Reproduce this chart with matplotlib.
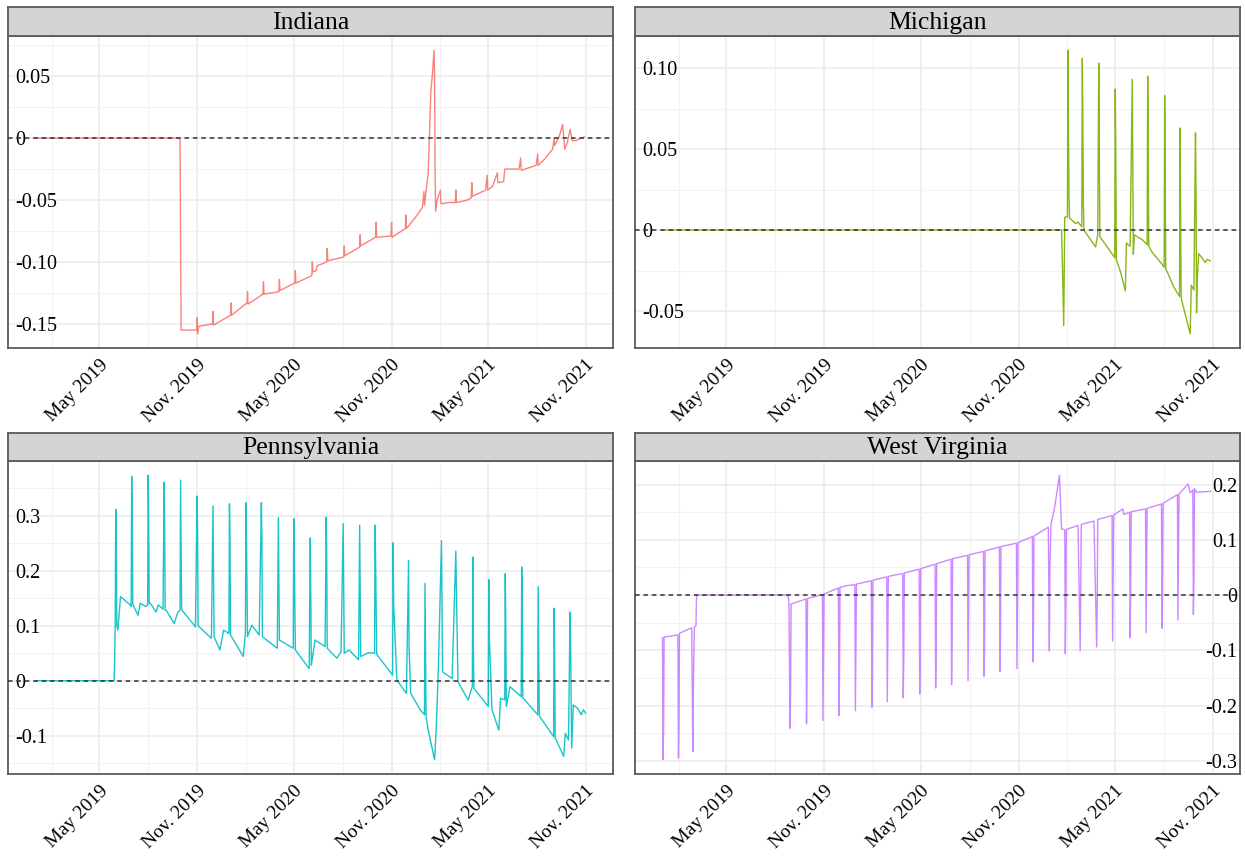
import matplotlib
matplotlib.use("Agg")
import matplotlib.pyplot as plt
from matplotlib.ticker import AutoMinorLocator
import numpy as np
import pandas as pd

plt.rcParams['font.family'] = ['Liberation Serif', 'DejaVu Serif']

start = pd.Timestamp("2019-01-01")

# days since 2019-01-01 and the plotted difference
indiana_days = [0, 272, 273, 274, 303, 304, 305, 307, 333, 334, 335, 367, 368, 369,
                398, 399, 400, 428, 429, 430, 458, 459, 460, 488, 489, 490, 520, 521,
                522, 528, 530, 548, 549, 550, 580, 581, 582, 610, 611, 612, 640, 641,
                642, 669, 670, 671, 696, 697, 698, 715, 728, 731, 732, 739, 744, 747,
                750, 751, 752, 753, 756, 762, 763, 778, 790, 791, 792, 813, 820, 821,
                822, 847, 850, 851, 860, 869, 870, 881, 883, 910, 913, 914, 942, 945,
                946, 958, 973, 976, 977, 986, 992, 996, 1001, 1006, 1010, 1017, 1027, 1033]
indiana_vals = [0, 0, -0.079, -0.155, -0.155, -0.145, -0.158, -0.152, -0.150, -0.140,
                -0.151, -0.143, -0.133, -0.143, -0.133, -0.124, -0.134, -0.126, -0.116,
                -0.126, -0.124, -0.114, -0.123, -0.117, -0.107, -0.117, -0.111, -0.100,
                -0.108, -0.107, -0.103, -0.100, -0.089, -0.099, -0.096, -0.087, -0.095,
                -0.088, -0.078, -0.087, -0.080, -0.068, -0.080, -0.079, -0.068, -0.080,
                -0.073, -0.062, -0.073, -0.064, -0.056, -0.043, -0.054, -0.028, 0.038,
                0.052, 0.071, 0.050, -0.028, -0.059, -0.050, -0.042, -0.053, -0.052,
                -0.052, -0.042, -0.052, -0.050, -0.048, -0.036, -0.047, -0.042, -0.030,
                -0.042, -0.039, -0.028, -0.036, -0.035, -0.025, -0.025, -0.016, -0.026,
                -0.022, -0.013, -0.022, -0.017, -0.009, 0.000, -0.006, 0.002, 0.011,
                -0.009, -0.003, 0.007, -0.002, -0.002, 0.000, 0.001]

michigan_days = [0, 751, 753, 755, 757, 762, 763, 764, 765, 766, 778, 782, 789, 790,
                 791, 792, 793, 815, 819, 821, 822, 823, 851, 852, 853, 854, 862, 871,
                 873, 880, 884, 885, 886, 888, 903, 912, 913, 914, 915, 921, 940, 944,
                 945, 946, 947, 950, 962, 973, 974, 975, 976, 993, 995, 1000, 1003, 1004,
                 1005, 1006, 1009, 1015, 1021, 1025, 1031]
michigan_vals = [0, 0, -0.028, -0.059, 0.008, 0.008, 0.111, 0.059, 0.021, 0.0073, 0.004,
                 0.005, 0.002, 0.106, 0.068, 0.016, 0.0, -0.0104, -0.003, 0.103, 0.051,
                 -0.004, -0.017, 0.087, 0.048, -0.018, -0.026, -0.0375, -0.008, -0.010,
                 0.093, 0.041, -0.015, -0.003, -0.006, -0.009, 0.095, 0.057, -0.010,
                 -0.0135, -0.021, -0.023, 0.083, 0.031, -0.024, -0.026, -0.035, -0.041,
                 0.063, 0.0115, -0.042, -0.064, -0.034, -0.037, 0.060, 0.021, -0.051,
                 -0.033, -0.0146, -0.017, -0.020, -0.018, -0.019]

penn_days = [0, 148, 149, 150, 151, 152, 153, 155, 160, 178, 180, 181, 182, 183, 185,
             193, 197, 208, 211, 212, 213, 214, 216, 227, 231, 240, 242, 243, 244, 246,
             261, 268, 272, 273, 274, 275, 276, 301, 304, 305, 306, 331, 334, 335, 336,
             347, 354, 364, 365, 366, 367, 391, 395, 396, 397, 399, 407, 421, 425, 426,
             427, 455, 457, 458, 459, 485, 486, 487, 489, 515, 517, 518, 519, 526, 545,
             547, 548, 549, 567, 575, 579, 580, 581, 590, 608, 610, 611, 612, 627, 638,
             639, 640, 642, 672, 673, 674, 680, 698, 702, 703, 706, 724, 732, 733, 734,
             735, 739, 751, 754, 758, 764, 765, 766, 784, 791, 792, 795, 814, 822, 823,
             824, 825, 852, 853, 854, 859, 872, 875, 883, 884, 885, 886, 893, 914, 915,
             916, 917, 945, 946, 947, 948, 975, 976, 977, 978, 994, 997, 1003, 1006,
             1007, 1009, 1012, 1020, 1027, 1031, 1035]
penn_vals = [0, 0, 0.038, 0.104, 0.312, 0.263, 0.100, 0.092, 0.153, 0.138, 0.135, 0.372,
             0.300, 0.140, 0.135, 0.119, 0.141, 0.135, 0.138, 0.374, 0.300, 0.140, 0.141,
             0.125, 0.138, 0.130, 0.361, 0.290, 0.128, 0.128, 0.104, 0.125, 0.128, 0.365,
             0.250, 0.130, 0.128, 0.098, 0.336, 0.270, 0.100, 0.077, 0.318, 0.200, 0.080,
             0.056, 0.092, 0.086, 0.322, 0.260, 0.083, 0.044, 0.086, 0.324, 0.260, 0.080,
             0.101, 0.083, 0.324, 0.260, 0.080, 0.059, 0.297, 0.180, 0.074, 0.059, 0.295,
             0.230, 0.056, 0.022, 0.260, 0.160, 0.028, 0.074, 0.062, 0.298, 0.230, 0.059,
             0.041, 0.053, 0.286, 0.160, 0.050, 0.056, 0.038, 0.283, 0.170, 0.044, 0.051,
             0.050, 0.283, 0.220, 0.048, 0.010, 0.251, 0.140, 0.001, -0.023, 0.219, 0.060,
             -0.023, -0.053, -0.062, 0.177, 0.060, -0.065, -0.090, -0.144, -0.090, 0.019,
             0.255, 0.140, 0.016, 0.004, 0.236, 0.170, -0.002, -0.035, -0.011, 0.225,
             0.060, -0.014, -0.047, 0.184, 0.080, -0.053, -0.090, -0.032, -0.035, 0.195,
             0.090, -0.047, -0.011, -0.029, 0.207, 0.140, -0.031, -0.062, 0.171, 0.060,
             -0.064, -0.102, 0.132, 0.040, -0.104, -0.138, -0.096, -0.108, 0.125, 0.060,
             -0.123, -0.044, -0.050, -0.062, -0.053, -0.059]

wv_days = [0, 1, 2, 3, 29, 30, 31, 32, 55, 57, 58, 60, 63, 64, 236, 238, 240, 241, 242,
           270, 271, 272, 273, 301, 302, 303, 304, 331, 332, 333, 334, 346, 362, 363, 364,
           365, 393, 394, 395, 396, 422, 423, 424, 425, 452, 453, 454, 455, 483, 484, 485,
           486, 513, 514, 515, 516, 543, 544, 545, 546, 574, 575, 576, 577, 604, 605, 606,
           607, 634, 635, 636, 637, 666, 667, 668, 669, 696, 697, 698, 699, 726, 728, 729,
           731, 738, 747, 751, 757, 758, 759, 760, 782, 786, 787, 788, 812, 817, 818, 819,
           846, 847, 848, 849, 866, 868, 879, 880, 881, 882, 909, 910, 911, 912, 939, 940,
           941, 942, 969, 970, 971, 972, 989, 993, 998, 999, 1000, 1001, 1005, 1032]
wv_vals = [-0.077, -0.298, -0.250, -0.076, -0.072, -0.295, -0.240, -0.069, -0.059, -0.283,
           -0.168, -0.058, -0.055, 0, 0, -0.014, -0.241, -0.186, -0.016, -0.007, -0.233,
           -0.150, -0.006, 0.001, -0.227, -0.120, 0.002, 0.013, -0.218, -0.160, 0.014,
           0.017, 0.019, -0.209, -0.100, 0.020, 0.026, -0.203, -0.150, 0.027, 0.033,
           -0.193, -0.090, 0.034, 0.039, -0.186, -0.120, 0.040, 0.047, -0.179, -0.100,
           0.048, 0.056, -0.168, -0.100, 0.057, 0.065, -0.162, -0.080, 0.066, 0.072,
           -0.155, -0.040, 0.073, 0.079, -0.147, -0.100, 0.080, 0.087, -0.138, -0.080,
           0.088, 0.094, -0.133, -0.020, 0.095, 0.106, -0.121, -0.070, 0.107, 0.123,
           -0.101, 0.050, 0.128, 0.159, 0.217, 0.120, 0.118, -0.106, -0.030, 0.119, 0.126,
           -0.101, 0.000, 0.128, 0.134, -0.094, -0.020, 0.137, 0.144, -0.083, 0.030, 0.145,
           0.156, 0.146, 0.150, -0.077, 0.000, 0.151, 0.156, -0.068, 0.040, 0.157, 0.165,
           -0.060, 0.000, 0.166, 0.182, -0.045, 0.070, 0.183, 0.201, 0.185, 0.190, -0.035,
           0.020, 0.193, 0.186, 0.188]

major_dates = ["2019-05-01", "2019-11-01", "2020-05-01", "2020-11-01", "2021-05-01", "2021-11-01"]
major_labels = ["May 2019", "Nov. 2019", "May 2020", "Nov. 2020", "May 2021", "Nov. 2021"]
minor_dates = ["2019-02-01", "2019-08-01", "2020-02-01", "2020-08-01", "2021-02-01", "2021-08-01"]

panels = [
    ("Indiana", indiana_days, indiana_vals, "#F8766D",
     [0.05, 0, -0.05, -0.10, -0.15], ["0.05", "0", "-0.05", "-0.10", "-0.15"], "left"),
    ("Michigan", michigan_days, michigan_vals, "#7CAE00",
     [0.10, 0.05, 0, -0.05], ["0.10", "0.05", "0", "-0.05"], "left"),
    ("Pennsylvania", penn_days, penn_vals, "#00BFC4",
     [0.3, 0.2, 0.1, 0, -0.1], ["0.3", "0.2", "0.1", "0", "-0.1"], "left"),
    ("West Virginia", wv_days, wv_vals, "#C77CFF",
     [0.2, 0.1, 0, -0.1, -0.2, -0.3], ["0.2", "0.1", "0", "-0.1", "-0.2", "-0.3"], "right"),
]

W, H = 1245, 856
fig = plt.figure(figsize=(W / 100, H / 100), dpi=100)

# pixel boxes: (left, right, strip top, strip bottom, panel bottom)
cols = [(8, 613), (635, 1240)]
rows = [(7, 36, 348), (433, 461, 774)]

border = "#5a5a5a"
first = None
for i, (name, days, vals, color, yt, ytl, side) in enumerate(panels):
    x0, x1 = cols[i % 2]
    st, sb, pb = rows[i // 2]
    rect = [x0 / W, 1 - pb / H, (x1 - x0) / W, (pb - sb) / H]
    ax = fig.add_axes(rect, sharex=first) if first is not None else fig.add_axes(rect)
    if first is None:
        first = ax

    dates = start + pd.to_timedelta(np.array(days), unit="D")
    ax.plot(dates, vals, color=color, lw=1.0, alpha=0.9, zorder=2)
    ax.axhline(0, color="#333333", lw=1.1, ls=(0, (3, 2.5)), zorder=3)

    ax.set_yticks(yt)
    ax.set_yticklabels(ytl)
    ax.yaxis.set_minor_locator(AutoMinorLocator(2))
    ax.set_xticks(pd.to_datetime(major_dates))
    ax.set_xticklabels(major_labels, rotation=45, ha="right", va="top",
                       rotation_mode="anchor", fontsize=14)
    ax.set_xticks(pd.to_datetime(minor_dates), minor=True)
    ax.tick_params(which="both", length=0)
    ax.tick_params(axis="x", pad=6)
    ax.grid(which="major", color="#EBEBEB", lw=1.1)
    ax.grid(which="minor", color="#F2F2F2", lw=0.8)
    ax.set_axisbelow(True)

    if side == "left":
        ax.tick_params(axis="y", pad=-5, labelsize=14.5)
        for t in ax.get_yticklabels():
            t.set_horizontalalignment("left")
    else:
        ax.yaxis.tick_right()
        ax.tick_params(axis="y", which="both", length=0, pad=-2, labelsize=14.5)
        for t in ax.get_yticklabels():
            t.set_horizontalalignment("right")

    for sp in ax.spines.values():
        sp.set_color(border)
        sp.set_linewidth(1.3)

    sax = fig.add_axes([x0 / W, 1 - sb / H, (x1 - x0) / W, (sb - st) / H])
    sax.set_facecolor("#D4D4D4")
    sax.set_xticks([])
    sax.set_yticks([])
    for sp in sax.spines.values():
        sp.set_color(border)
        sp.set_linewidth(1.3)
    sax.text(0.5, 0.45, name, ha="center", va="center", fontsize=18.5,
             transform=sax.transAxes)

fig.savefig("out.png", dpi=100)
